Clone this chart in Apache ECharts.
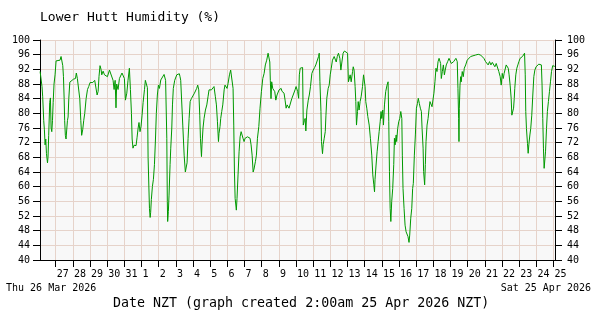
<!DOCTYPE html>
<html><head><meta charset="utf-8">
<script src="https://cdn.jsdelivr.net/npm/echarts@6/dist/echarts.min.js"></script>
<style>html,body{margin:0;padding:0;background:#fff}#c{width:600px;height:320px}</style>
</head><body><div id="c"></div>
<script>
// days since Thu 26 Mar 2026 00:00 NZT
const dayOffsets = [
0.09,0.17,0.20,0.24,0.30,0.34,0.38,0.42,0.46,0.52,0.55,0.59,0.65,0.69,0.73,0.77,0.81,0.85,0.90,0.96,
1.02,1.12,1.25,1.31,1.37,1.41,1.45,1.49,1.52,1.56,1.60,1.64,1.68,1.72,1.76,1.82,1.89,2.03,2.15,2.20,
2.26,2.34,2.40,2.46,2.51,2.57,2.63,2.69,2.77,2.85,2.92,3.00,3.16,3.27,3.35,3.41,3.47,3.52,3.58,3.64,
3.68,3.76,3.84,3.93,4.01,4.13,4.24,4.34,4.40,4.46,4.51,4.55,4.63,4.71,4.79,4.86,4.94,5.00,5.06,5.14,
5.21,5.29,5.35,5.41,5.45,5.50,5.56,5.62,5.68,5.74,5.80,5.85,5.91,5.97,6.03,6.09,6.17,6.22,6.28,6.34,
6.38,6.42,6.46,6.50,6.53,6.57,6.63,6.69,6.75,6.81,6.86,6.92,6.98,
7.04,7.12,7.20,7.31,7.40,7.43,7.47,7.50,7.52,7.56,7.60,7.66,7.70,7.76,7.80,7.85,7.93,8.05,8.15,8.20,
8.24,8.28,8.34,8.40,8.48,8.55,8.59,8.65,8.71,8.77,8.83,8.90,9.00,9.08,9.16,9.21,9.27,9.33,9.39,9.43,
9.49,9.52,9.58,9.64,9.72,9.80,9.87,9.93,9.99,10.07,10.15,10.22,10.30,10.36,10.42,10.48,10.51,10.57,10.61,10.67,
10.73,10.81,10.86,10.92,10.98,11.04,11.12,11.19,11.27,11.33,11.37,11.41,11.45,11.49,11.52,11.56,11.62,11.68,11.74,11.80,
11.85,11.91,11.97,12.03,12.09,12.17,12.24,12.32,12.38,12.44,12.50,12.55,12.63,12.69,12.75,12.83,12.90,12.98,13.06,13.14,
13.21,13.29,13.37,13.43,13.47,13.50,13.54,13.58,13.64,13.70,13.76,13.82,13.85,13.89,13.95,14.01,14.07,14.13,14.18,14.24,
14.30,14.36,14.42,14.48,14.53,14.59,14.67,14.75,14.83,14.88,14.94,15.00,
15.03,15.09,15.15,15.19,15.24,15.30,15.38,15.42,15.48,15.53,15.57,15.63,15.71,15.77,15.84,15.92,16.00,16.08,16.15,16.25,
16.31,16.35,16.39,16.45,16.48,16.54,16.58,16.64,16.70,16.74,16.79,16.87,16.93,16.99,17.05,17.12,17.22,17.28,17.34,17.40,
17.47,17.55,17.61,17.67,17.74,17.82,17.90,18.00,18.05,18.09,18.15,18.21,18.29,18.33,18.38,18.44,18.48,18.52,18.58,18.62,
18.67,18.73,18.79,18.87,18.93,18.98,19.02,19.06,19.12,19.18,19.26,19.33,19.41,19.47,19.53,19.57,19.60,19.66,19.72,19.78,
19.84,19.90,19.95,19.99,20.05,20.09,20.15,20.22,20.30,20.36,20.40,20.44,20.48,20.52,20.57,20.63,20.69,20.73,20.77,20.83,
20.86,20.92,20.98,21.04,21.10,21.16,21.19,21.23,21.29,21.35,21.41,21.46,21.52,21.58,21.62,21.68,21.74,21.79,21.83,21.89,
21.95,22.01,22.07,22.12,22.18,22.24,22.30,22.34,22.40,22.43,22.49,22.53,22.57,22.63,22.69,22.74,22.80,22.86,22.92,22.98,
23.03,23.09,23.15,23.21,23.27,23.33,23.38,23.42,23.46,23.52,23.58,23.64,23.69,23.75,23.83,23.91,23.98,24.04,24.10,24.18,
24.26,24.31,24.39,24.43,24.47,24.49,24.51,24.55,24.59,24.62,24.68,24.74,24.80,24.88,24.97,25.07,25.17,25.26,25.46,25.61,
25.75,25.84,25.94,26.04,26.14,26.19,26.27,26.35,26.43,26.50,26.58,26.66,26.74,26.81,26.89,26.95,27.01,27.07,27.12,27.18,
27.24,27.30,27.36,27.41,27.47,27.53,27.57,27.61,27.67,27.71,27.74,27.80,27.86,27.92,27.98,28.05,28.13,28.19,28.27,28.31,
28.35,28.38,28.42,28.48,28.52,28.56,28.62,28.67,28.73,28.79,28.85,28.91,28.98,29.06,29.14,29.24,29.29,29.33,29.37,29.41,
29.45,29.49,29.53,29.59,29.64,29.70,29.76,29.82,29.88,29.95,30.01,30.07
];
const humidity = [
91.4,91,87.3,84.5,78,75.5,71.4,73,69,66.5,68,74,83,84.2,76,75,78,83,88,90.5,
94.3,94.5,94.5,95.5,96,93,90,84,78,74,73,72.5,78,79,84,88.5,89,89.3,89.5,91,
89.5,89.5,84,78,74,75.5,78,80,84,86.5,87.3,88.4,88.4,89,88.5,85,86,90,93,92,
90.5,91.5,90.5,91,90,91.8,91.8,89,86.5,89,81.5,88,86.5,89.5,90,91,91.2,89.5,83.6,85.5,
89,92.3,86.5,80,73,70.5,71.3,70.8,71.2,73.5,76,77.5,75,76.5,79.5,83,86.5,89,88.5,87,
68,61,54,51.6,53,56.5,60,62,66,73,80,85,87.7,
86.8,89.1,89.5,90.6,89,88.6,73.2,55.9,50.5,53.2,57.7,66,70.5,76,82.3,86.8,89,90.5,91,90.8,
90,89,88.5,76.8,68.6,64,64.5,66.5,73.2,78.6,83.2,84,84.5,85.5,86,86.8,87.7,86.4,79.5,73.2,
68.2,71.4,76,78.6,80.9,82.3,84.5,86.4,86.8,86.4,86.8,87.3,84.5,82.3,77.7,72.3,74.5,76.4,78.6,80.5,
82.3,86.4,87.7,87.3,86.8,88.2,90.5,91.8,91.4,86.8,76.8,64,56.8,55,53.6,56.8,63.2,69.5,73.6,75,
75.2,73.2,72.3,73.2,72.8,73.6,73.9,73.2,71.4,68.6,64,64.8,66.8,68.6,73.2,76.4,81.4,85.9,89.5,90.9,
93.2,94.5,96.4,96.6,94,89,84,88.6,86.8,86.4,85.9,83.6,83.2,85,84.5,86.4,86,86.8,86,86.4,
85.5,83.6,81.4,82.3,81.8,81.4,81.8,84,85,85.5,86.4,87.3,
86.8,86,84.1,90.5,92.3,92.7,92.5,76.8,78,78.6,75.2,80.9,83.6,85,87.3,90.9,91.8,92.5,93.2,93.6,
95.5,96.4,88.6,80.5,72.3,69,71.5,73.2,75,79.5,84.1,86.8,87.7,90.5,92.3,94.5,95.5,96,94,95.5,
96.4,95,91.8,94,96.4,97,96.8,96.4,88.6,89,90.5,88.6,91.4,92.7,91.8,87.3,83.2,76.8,80.5,83.2,
80.9,83.2,84.5,87.3,90.5,90.9,87.3,83.2,81.4,79.1,76.8,73.2,68.6,63.2,60.5,58.6,62,65.9,69.5,72.3,
75,77.7,80.5,78.6,80.9,76.8,82.3,85.9,87.7,88.6,77.7,64.1,54.1,50.5,55.9,59.5,66,73.2,71.4,74.1,
72.3,75.9,77.7,78.6,80.5,78.6,68.6,59.5,54.1,49.5,47.7,48.2,46.4,44.8,46.8,51.4,54.1,59.5,60.9,68.6,
74.1,81.4,82.7,84.1,82.7,81.4,80.5,75.9,70.5,64.1,60.5,66,72.3,76.8,78.6,80.9,83.2,82.7,81.8,81.4,
85.5,88.6,92.3,91.4,94.1,95,95.5,93.6,89.5,91.4,93.2,90.5,91.8,93.2,94.1,95,94.8,93.6,93.2,94.1,
93.9,95,94.1,86.8,78.6,72.3,81.4,87.7,90,88.6,91.4,90,92.3,93.2,94.5,95,95.5,95.9,95.9,96.1,
95.9,95.5,95,94.1,93.6,93.2,94.1,93.2,93.9,93.6,92.7,93.6,93.2,91.4,90,87.7,90.9,89.5,90.9,90.5,
93.2,93.6,92.3,90.5,87.7,84.1,79.5,79.1,81.4,84.1,86.8,90.5,92.3,93.2,94.1,95,94.5,95.5,95,96.4,
90.5,80.5,75.9,71.8,69.1,71.5,74.1,75.9,79.5,85,90,91.8,92.7,93.2,93.4,93.6,93.2,87.7,78.6,70.5,
65,64.5,69.5,75.9,80.5,83.2,85.9,88.6,91.4,93,93,92.8
];
const yTicks = {min: 40, max: 100, step: 4};
const titleText = 'Lower Hutt Humidity (%)';
const xTitle = 'Date NZT (graph created 2:00am 25 Apr 2026 NZT)';
const startLabel = 'Thu 26 Mar 2026';
const endLabel = 'Sat 25 Apr 2026';

const DAY = 86400000;
const BASE = Date.UTC(2026, 2, 26);
const seriesData = dayOffsets.map((d, i) => [BASE + Math.round(d * DAY), humidity[i]]);
const FONT = '"DejaVu Sans Mono", monospace';
const gridColor = '#e6d3ca';

const yAxisCommon = {
  type: 'value', min: yTicks.min, max: yTicks.max, interval: yTicks.step,
  axisLine: {show: true, lineStyle: {color: '#000', width: 1}},
  axisTick: {show: true, length: 7, lineStyle: {color: '#000'}},
  axisLabel: {fontFamily: FONT, fontSize: 10, color: '#000', margin: 10}
};

const chart = echarts.init(document.getElementById('c'), null, {renderer: 'canvas'});
chart.setOption({
  animation: false,
  useUTC: true,
  backgroundColor: '#fff',
  title: {text: titleText, left: 40, top: 11, padding: 0,
    textStyle: {fontFamily: FONT, fontSize: 13, fontWeight: 'normal', color: '#000'}},
  grid: {left: 40, right: 45, top: 40, bottom: 60, show: true, backgroundColor: '#f8f8f8', borderWidth: 0},
  xAxis: {
    type: 'time', min: BASE + DAY * 2 / 24, max: BASE + 30 * DAY + DAY * 2 / 24,
    minInterval: DAY, maxInterval: DAY,
    axisLine: {show: true, lineStyle: {color: '#000'}},
    axisTick: {show: true, length: 7, lineStyle: {color: '#000'}},
    axisLabel: {fontFamily: FONT, fontSize: 10, color: '#000', margin: 9, align: 'left', padding: [0,0,0,1],
      showMinLabel: false,
      formatter: v => String(new Date(v).getUTCDate())},
    splitLine: {show: true, lineStyle: {color: gridColor, width: 1}}
  },
  yAxis: [
    Object.assign({}, yAxisCommon, {position: 'left', splitLine: {show: true, lineStyle: {color: gridColor, width: 1}}}),
    Object.assign({}, yAxisCommon, {position: 'right', splitLine: {show: false},
      axisLabel: Object.assign({}, yAxisCommon.axisLabel, {margin: 12})})
  ],
  graphic: [
    {type: 'text', left: 6, top: 283, style: {text: startLabel, font: '10px ' + FONT, fill: '#000'}},
    {type: 'text', right: 9, top: 283, style: {text: endLabel, font: '10px ' + FONT, fill: '#000'}},
    {type: 'text', left: 113, top: 297, style: {text: xTitle, font: '13.3px ' + FONT, fill: '#000'}}
  ],
  series: [{
    type: 'line', data: seriesData, showSymbol: false, symbol: 'none',
    lineStyle: {color: '#009900', width: 1}, itemStyle: {color: '#009900'}
  }]
});
</script></body></html>
